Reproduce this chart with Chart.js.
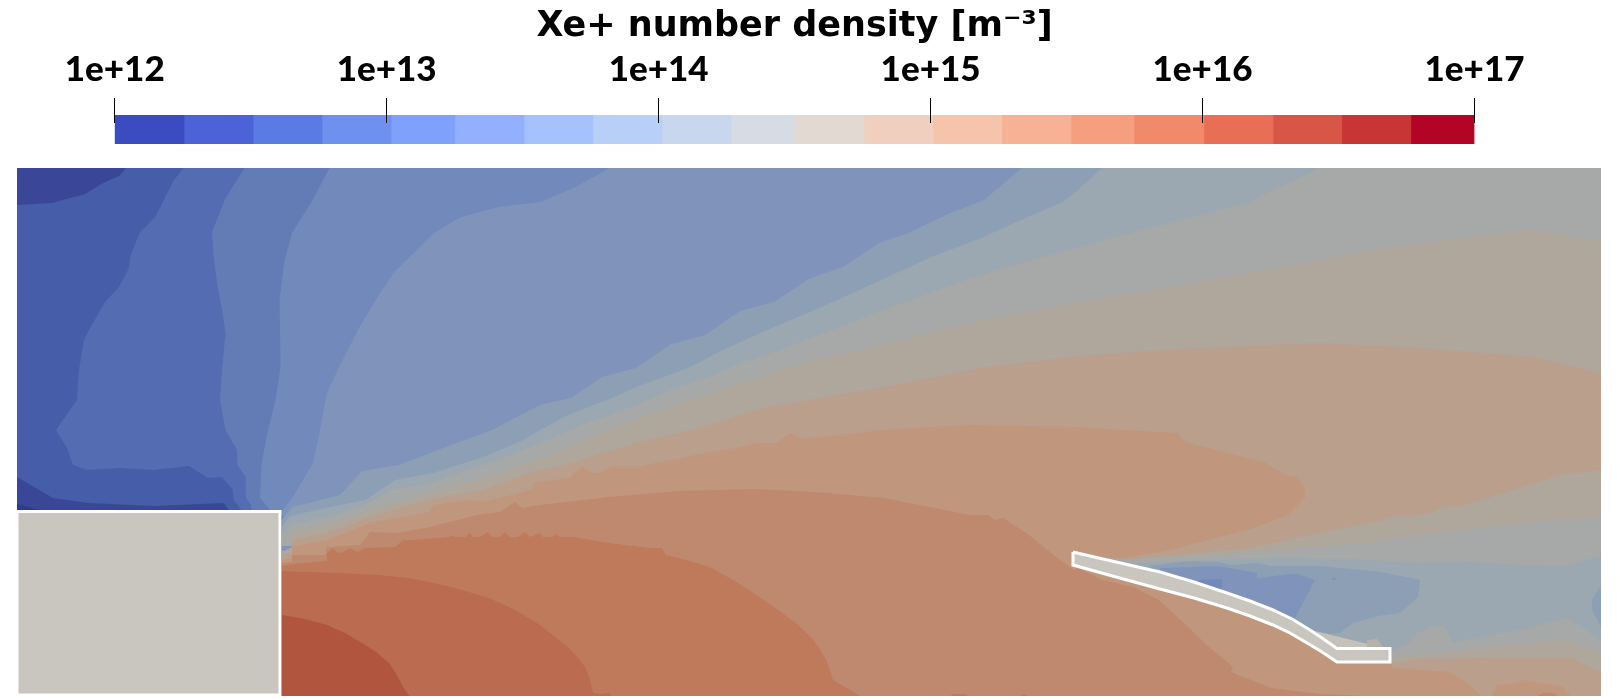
<!DOCTYPE html>
<html><head><meta charset="utf-8">
<script src="https://cdn.jsdelivr.net/npm/chart.js@4"></script>
<style>html,body{margin:0;padding:0;background:#fff;width:1618px;height:699px;overflow:hidden}
canvas{position:absolute;display:block}</style></head><body>
<canvas id="bar" style="left:0;top:0"></canvas>
<canvas id="field" style="left:17px;top:168px"></canvas>
<script>
const titleText = 'Xe+ number density [m⁻³]';
const tickExponents = [12,13,14,15,16,17];
const bandEdges = [12,12.255,12.509,12.762,13.016,13.251,13.505,13.758,14.012,14.266,14.498,14.755,15.009,15.262,15.516,15.748,16.005,16.259,16.512,16.766,17];
const bandColors = ['#3b4cc0','#4b63d6','#5a7be4','#6e90ee','#7fa0fb','#92b0fd','#a6c2fe','#b8cff8','#c8d6ee','#d6dce4','#e3d9d3','#f0cfbf','#f6c4ab','#f7b295','#f59f7f','#f18a6b','#e86f56','#d85646','#c73634','#b40426'];

const c = ['#3a4798','#465da9','#546cb2','#637cb6','#728abb','#8094bb','#8d9fb5','#9ba7b1','#a6a9a7','#afa69c','#b99f8c','#c0977c','#bf8970','#bf7a5c','#ba6b50','#b1553e'];
const solidColor = '#c8c6be';

const fieldBase = [[17,168],[1601,168],[1601,696],[17,696]];
const cornerLow = [[17,168],[126,168],[119,176],[103,183],[85,194],[52,203],[17,205]];
const blockLow = [[17,477],[53,498],[88,503],[155,506],[224,503],[230,512],[17,512]];
const blockLowest = [[17,504],[40,510],[17,512]];
const level2 = [[183.5,168],[174,180],[155,217],[139.5,233],[130,257],[129,268],[119,287],[105,302],[89,330],[84,340],[79,370],[77,400],[56,430],[67,448],[73,465],[88,470],[120,468],[153,470],[189,466],[208,478],[222,477],[232.5,489],[233.5,500],[241,509],[241,515],[282,515],[282,696],[1601,696],[1601,168]];
const level3 = [[244.5,168],[225.5,198],[212,232],[213.5,255],[217,283],[222,310],[225.5,333],[222,370],[220,400],[225.5,430],[237,450],[237.5,465],[245.5,477],[246,498],[251,505],[252,515],[282,515],[282,696],[1601,696],[1601,168]];
const level4 = [[329.5,168],[311.6,202],[292,233],[284,263],[279.6,300],[280.6,367],[275.5,400],[268,430],[261.7,463],[260,498],[272,512],[282,515],[282,696],[1601,696],[1601,168]];
const level5 = [[610,168],[574,188],[540,202],[499,207],[461,217],[434,233],[415,252],[394,272],[377,298],[358,330],[339,367],[327,393],[318,440],[313,463],[293,497],[283,510],[282,696],[1601,696],[1601,168]];
const level6 = [[282,520],[287,513],[293,507],[340,495],[362,471],[399,465],[451,445],[492,430],[540,405],[571,398],[602,377],[636,368],[671,344],[705,335],[740,311],[774,302],[808.6,279],[843,267],[879,243],[908.5,233],[946,215],[984,200],[1022,168],[1601,168],[1601,696],[282,696]];
const level7 = [[282,527],[290,516],[325,508],[365,500],[395,480],[433,473],[483,457],[523,440],[540,430],[567.5,415],[612,398],[636,387],[688,368],[722.5,350],[774,327],[826,305],[881,280],[929,258],[981,238],[1032,215],[1063,202],[1080,188],[1102,168],[1601,168],[1601,696],[282,696]];
const level8 = [[282,535],[290,525],[333,515],[363,505],[393,490],[430,483],[473,468],[503,458],[547,440],[574,428],[636,405],[671,390],[709,377],[740,363],[774,352],[826,332],[877.5,312],[919,297],[970,278],[1032,260],[1080,247],[1123,235],[1181,220],[1248.5,202],[1319,168],[1601,168],[1601,696],[282,696]];
const level9 = [[292,547],[292,532],[325,525],[350,517],[370,510],[430,492],[483,478],[537,460],[570,447],[612,428],[657,412],[712,393],[767,375],[812,360],[860,350],[970,322],[1078,302],[1164,288],[1291,265],[1371,250],[1533,229],[1601,242],[1601,696],[282,696],[282,552]];
const level10 = [[292,552],[292,540],[327,533],[370,517],[430,499],[483,490],[537,470],[564,465],[636,443],[695,429],[733,417],[767,407],[815,399],[884,387],[981,368],[1078,356],[1164,350],[1250,346],[1319,343],[1422,348],[1533,357],[1601,373],[1601,696],[282,696],[282,556]];
const level11 = [[292,558],[292,547],[327,540],[370,523],[397,518],[430,512],[433,505],[470,500],[483,502],[532,490],[533,483],[540,482],[568,478],[583,467],[592,473],[600,473],[612,466],[636,467],[705,453],[741,447],[757,443],[776,443],[790,433],[802,439],[884,430],[895,429],[970,425],[1078,427],[1123,430],[1178,433],[1185,442],[1216,450],[1264,462],[1285,475],[1298,477],[1305,488],[1305,498],[1288,515],[1254,528],[1216,538],[1171,550],[1123,558],[1075,558],[1160,580],[1227,600],[1273,616],[1310,635],[1337,655],[1392,655],[1392,668],[1450,672],[1463,680],[1482,696],[282,696],[282,560]];
const level11Blob = [[1492,696],[1497,685],[1517,683],[1523,680],[1547,684],[1563,687],[1570,696]];
const level12 = [[292,562],[292,555],[325,555],[327,547],[360,545],[370,532],[397,533],[430,527],[477,515],[500,512],[515,502],[522,508],[540,505],[609,497],[678,491],[753.5,489],[815.5,492],[884,498],[970,515],[988,515],[995,520],[1003,518],[1029,535],[1056,557],[1074,570],[1078,568],[1102,580],[1133,587],[1159,600],[1188,627],[1209,647],[1233,667],[1231,672],[1271,688],[1320,694],[1392,697],[282,697],[282,563]];
const level12Blob = [[1537,696],[1543,693],[1553,693],[1558,696]];
const level13 = [[282,566],[292,564],[327,561],[327,553],[333,548],[338,553],[343,552],[350,548],[358,552],[365,548],[395,547],[403,540],[413,540],[447,537],[452,536],[455,537],[465,537],[470,533],[473,537],[480,537],[488,532],[492,537],[500,537],[505,532],[510,537],[518,537],[525,532],[530,537],[540,533],[543,537],[552,537],[557,534],[560,537],[574,537],[609,543],[650,548],[662,548],[666,555],[690,561],[712,568],[733,580],[753.5,593],[781,612],[797,624],[812,638],[820,649],[826,660],[830,670],[833,680],[862,697],[282,697]];
const level13BlobA = [[949,697],[953,694],[965,694],[970,697]];
const level13BlobB = [[1019,697],[1024,694],[1030,697]];
const level14 = [[282,571],[303,572],[340,573],[379,575],[408,578],[434,583],[462,590],[489,598],[515,610],[540,625],[550,633],[568,647],[578,658],[585,667],[590,680],[593,693],[600,694],[610,693],[611,697],[282,697]];
const level15 = [[282,615],[305,619],[327,625],[345,633],[362,643],[376,652],[389,663],[397,675],[403,687],[410,697],[282,697]];
const streak = [[282,546],[292,546],[292,550],[282,551]];
const wake9 = [[1103,558],[1123,560],[1181,555],[1250,548],[1319,533],[1384,520],[1402,515],[1409,517],[1429,513],[1446,506],[1457,507],[1491,497],[1560,475],[1601,470],[1601,672],[1570,658],[1487,658],[1420,659],[1392,664],[1337,655],[1273,616],[1227,600],[1160,580]];
const wake8 = [[1112,561],[1147,558],[1250,552],[1367,543],[1422,535],[1526,523],[1601,517],[1601,652],[1563,640],[1507,645],[1453,652],[1397,657],[1392,658],[1337,655],[1273,616],[1227,600],[1160,580]];
const wake7 = [[1130,564],[1147,563],[1216,560],[1285,558],[1347,559],[1420,563],[1467,562],[1520,565],[1566,566],[1601,556],[1601,640],[1567,618],[1520,630],[1452,642],[1445,625],[1430,627],[1413,635],[1410,643],[1392,650],[1337,655],[1273,616],[1227,600],[1160,580]];
const wake6 = [[1150,566],[1188,561],[1219,562],[1230,565],[1257,563],[1271,566],[1319,566],[1381,572],[1420,580],[1418,597],[1400,613],[1377,616],[1353,623],[1340,633],[1315,635],[1273,616],[1227,600],[1160,580]];
const wake6Edge = [[1601,585],[1592,600],[1592,610],[1601,627]];
const wake5 = [[1160,568],[1219,566],[1257,573],[1257,578],[1291,574],[1298,574],[1315,580],[1293,622],[1273,616],[1227,600],[1160,580]];
const wake5Dot = [[1331,580],[1334,577],[1337,580]];
const wake4 = [[1198,580],[1222,579],[1222,592],[1198,585]];
const plateShadow = [[1315,631],[1380,647],[1337,655]];
const plateShadowBlob = [[1367,640],[1377,639],[1383,647],[1367,648]];
const cathode = [[17,511.5],[280,511.5],[280,695],[17,695],[17,511.5]];
const plate = [[1073,552],[1116,562],[1160,572],[1194,582],[1227,593],[1250,601],[1273,610],[1292,619],[1310,630],[1322,638],[1337,648.5],[1390,648.5],[1390,662],[1337,662],[1322,652],[1307,643],[1290,633],[1273,625],[1250,616],[1227,608],[1194,598],[1160,589],[1116,577],[1073,565],[1073,552]];

const layers = [
  [fieldBase,c[1]],[cornerLow,c[0]],[blockLow,c[0]],[blockLowest,'#2d3a92'],
  [level2,c[2]],[level3,c[3]],[level4,c[4]],[level5,c[5]],[level6,c[6]],[level7,c[7]],[level8,c[8]],[streak,c[5]],
  [level9,c[9]],[level10,c[10]],[level11,c[11]],[level11Blob,c[11]],[level12,c[12]],[level12Blob,c[12]],
  [level13,c[13]],[level13BlobA,c[13]],[level13BlobB,c[13]],[level14,c[14]],[level15,c[15]],
  [wake9,c[9]],[wake8,c[8]],[wake7,c[7]],[wake6,c[6]],[wake6Edge,c[6]],[wake5,c[5]],[wake5Dot,c[5]],[wake4,c[4]],
  [plateShadow,'#c4c2b8'],[plateShadowBlob,'#b5b3a8']
];
const solids = [cathode, plate];

const polyData = p => p.map(([x,y]) => ({x,y}));
const fieldSets = layers.map(([pts,col],i) => ({
  data: polyData(pts), showLine:true, fill:'shape', backgroundColor:col, borderWidth:0, pointRadius:0, order:1000-i
}));
solids.forEach((pts,i) => fieldSets.push({
  data: polyData(pts), showLine:true, fill:'shape', backgroundColor:solidColor, borderColor:'#ffffff', borderWidth:3,
  borderJoinStyle:'miter', pointRadius:0, order:10-i
}));

const fc = document.getElementById('field'); fc.width=1584; fc.height=528;
new Chart(fc,{type:'scatter',data:{datasets:fieldSets},options:{
  responsive:false,animation:false,devicePixelRatio:1,
  layout:{padding:0},
  plugins:{legend:{display:false},tooltip:{enabled:false},title:{display:false}},
  scales:{x:{type:'linear',display:false,min:17,max:1601},y:{type:'linear',display:false,reverse:true,min:168,max:696}}
}});

const tickMarks = {id:'tickMarks',afterDatasetsDraw(ch){
  const s=ch.scales.x,ctx=ch.ctx,top=ch.chartArea.top;
  ctx.save();ctx.strokeStyle='#000';ctx.lineWidth=1;
  tickExponents.forEach(v=>{const x=Math.floor(s.getPixelForValue(v))+0.5;ctx.beginPath();ctx.moveTo(x,top-17);ctx.lineTo(x,top+8);ctx.stroke();});
  ctx.restore();
}};
const bc = document.getElementById('bar'); bc.width=1596; bc.height=150;
new Chart(bc,{type:'bar',plugins:[tickMarks],data:{labels:['n'],datasets:bandColors.map((col,i)=>({
  data:[[bandEdges[i],bandEdges[i+1]]],backgroundColor:col,borderWidth:0,barPercentage:1,categoryPercentage:1,grouped:false
}))},options:{
  indexAxis:'y',responsive:false,animation:false,devicePixelRatio:1,
  layout:{padding:{left:114.7,right:121.5,top:0,bottom:6}},
  plugins:{legend:{display:false},tooltip:{enabled:false},
    title:{display:true,text:titleText,color:'#000',font:{family:'"DejaVu Sans"',size:35,weight:'bold',lineHeight:1.2},padding:{top:6,bottom:0}}},
  scales:{
    x:{type:'linear',position:'top',min:12,max:17,
      grid:{display:false},border:{display:false},
      afterFit:s=>{s.height=67;},
      afterBuildTicks:s=>{s.ticks=tickExponents.map(v=>({value:v}));},
      ticks:{autoSkip:false,maxRotation:0,padding:16,color:'#000',font:{family:'Lato',size:35,weight:'900'},callback:v=>'1e+'+v}},
    y:{display:false}
  }
}});
</script></body></html>
